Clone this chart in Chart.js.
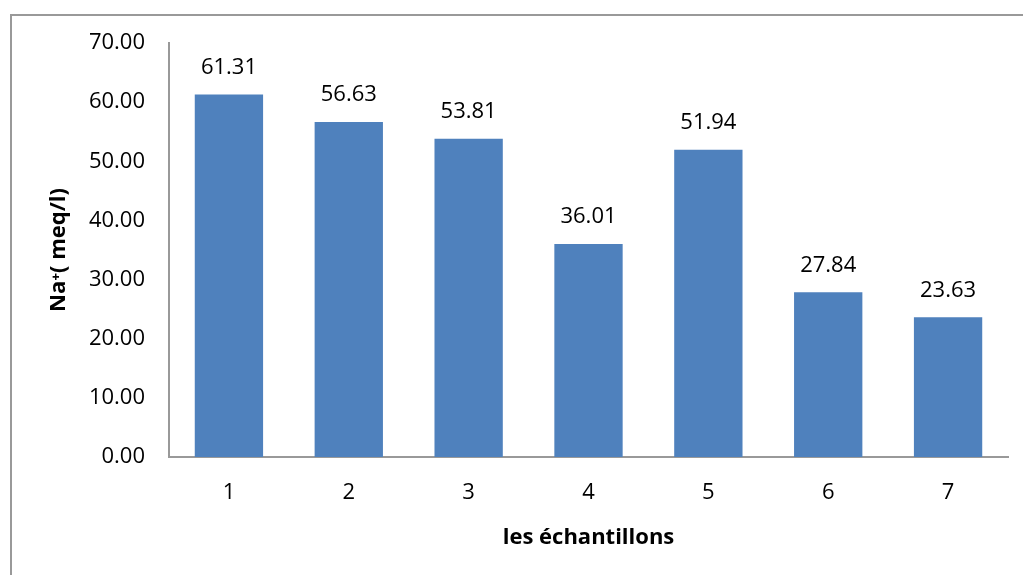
<!DOCTYPE html>
<html>
<head>
<meta charset="utf-8">
<script src="https://cdn.jsdelivr.net/npm/chart.js@4"></script>
<style>
  html, body { margin: 0; padding: 0; background: #fff; }
  #cadre { position: absolute; left: 10px; top: 14px; width: 1030px; height: 600px;
           border-left: 2px solid #999; border-top: 2px solid #999; }
  #zone { position: absolute; left: 0; top: 0; width: 1023px; height: 575px; }
</style>
</head>
<body>
<div id="cadre"></div>
<div id="zone"><canvas id="graphique"></canvas></div>
<script>
// Données
const echantillons = ["1", "2", "3", "4", "5", "6", "7"];
const sodium = [61.31, 56.63, 53.81, 36.01, 51.94, 27.84, 23.63];
const ticksY = [0, 10, 20, 30, 40, 50, 60, 70];

const police = "'Open Sans', sans-serif";

// étiquettes au-dessus des barres
const etiquettes = {
    id: "etiquettes",
    afterDatasetsDraw(chart) {
        const ctx = chart.ctx;
        const meta = chart.getDatasetMeta(0);
        ctx.save();
        ctx.font = "22px " + police;
        ctx.fillStyle = "#000";
        ctx.textAlign = "center";
        ctx.textBaseline = "middle";
        meta.data.forEach((barre, i) => {
            ctx.fillText(sodium[i].toFixed(2), barre.x, barre.y - 27);
        });
        ctx.restore();
    }
};

new Chart(document.getElementById("graphique"), {
    type: "bar",
    data: {
        labels: echantillons,
        datasets: [{
            data: sodium,
            backgroundColor: "#4F81BD",
            categoryPercentage: 0.57,
            barPercentage: 1
        }]
    },
    options: {
        responsive: true,
        maintainAspectRatio: false,
        animation: false,
        layout: { padding: { left: 46, top: 43, right: 15, bottom: 20 } },
        plugins: {
            legend: { display: false },
            tooltip: { enabled: false }
        },
        scales: {
            x: {
                grid: { display: false, drawTicks: false },
                border: { color: "#999", width: 2 },
                ticks: { color: "#000", font: { family: police, size: 22 }, padding: 23 },
                title: {
                    display: true, text: "les échantillons", color: "#000",
                    font: { family: police, size: 22, weight: "bold" }, padding: { top: 4 }
                },
                afterFit(scale) { scale.height = 98; }
            },
            y: {
                min: 0, max: 70,
                afterBuildTicks(scale) { scale.ticks = ticksY.map(v => ({ value: v })); },
                grid: { display: false, drawTicks: false },
                border: { color: "#999", width: 2 },
                ticks: {
                    color: "#000", font: { family: police, size: 22 }, padding: 24,
                    callback: v => v.toFixed(2)
                },
                title: {
                    display: true, text: "Na⁺( meq/l)", color: "#000",
                    font: { family: police, size: 22, weight: "bold" }, padding: 0
                },
                afterFit(scale) { scale.width = 123; }
            }
        }
    },
    plugins: [etiquettes]
});
</script>
</body>
</html>
